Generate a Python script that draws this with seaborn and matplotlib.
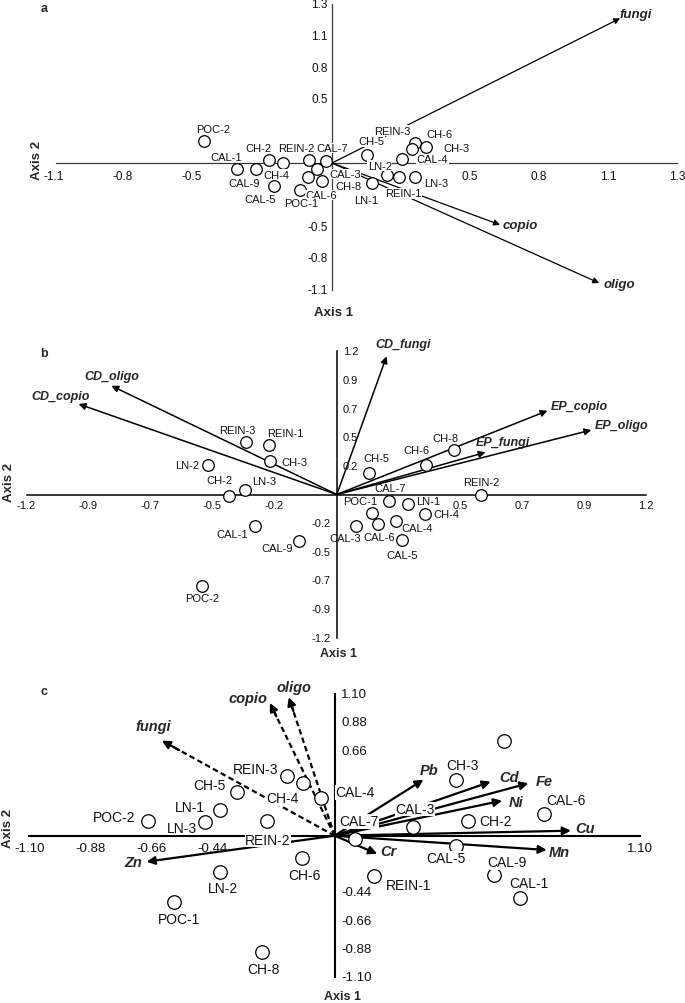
import numpy as np
import matplotlib
matplotlib.use("Agg")
import matplotlib.pyplot as plt
import seaborn as sns
import pandas as pd

# ---------------- data ----------------
# Panel a
A_SAMPLES = ['POC-2', 'CAL-1', 'CAL-9', 'CH-2', 'CH-4', 'CAL-5', 'REIN-2', 'CAL-7', 'CAL-3', 'CH-8', 'CAL-6',
             'POC-1', 'CH-5', 'LN-1', 'LN-2', 'REIN-1', 'LN-3', 'CAL-4', 'REIN-3', 'CH-3', 'CH-6']
A_AXIS1 = [-0.493, -0.368, -0.293, -0.244, -0.188, -0.223, -0.090, -0.023, -0.057, -0.094, -0.039,
           -0.125, 0.136, 0.156, 0.212, 0.260, 0.320, 0.270, 0.322, 0.309, 0.363]
A_AXIS2 = [0.187, -0.053, -0.050, 0.028, 0.000, -0.190, 0.023, 0.017, -0.050, -0.117, -0.151,
           -0.224, 0.067, -0.170, -0.101, -0.117, -0.117, 0.034, 0.168, 0.120, 0.137]
A_VARS = ['fungi', 'copio', 'oligo']
A_VEC1 = [1.113, 0.649, 1.032]
A_VEC2 = [1.214, -0.518, -1.007]
A_TICKLABELS = ['-1.1', '-0.8', '-0.5', '', '', '', '0.5', '0.8', '1.1', '1.3']

# Panel b
B_SAMPLES = ['REIN-3', 'REIN-1', 'CH-3', 'LN-2', 'CH-2', 'LN-3', 'CAL-1', 'CAL-9', 'POC-2', 'CH-5', 'CH-6',
             'CH-8', 'REIN-2', 'CAL-7', 'POC-1', 'LN-1', 'CH-4', 'CAL-4', 'CAL-6', 'CAL-3', 'CAL-5']
B_AXIS1 = [-0.353, -0.262, -0.258, -0.501, -0.419, -0.356, -0.316, -0.145, -0.523, 0.125, 0.346,
           0.455, 0.559, 0.202, 0.138, 0.277, 0.342, 0.228, 0.161, 0.073, 0.254]
B_AXIS2 = [0.443, 0.415, 0.279, 0.250, -0.010, 0.038, -0.262, -0.390, -0.765, 0.183, 0.250,
           0.373, -0.004, -0.057, -0.155, -0.082, -0.161, -0.225, -0.247, -0.262, -0.382]
B_VARS = ['CD_fungi', 'CD_oligo', 'CD_copio', 'EP_copio', 'EP_oligo', 'EP_fungi']
B_VEC1 = [0.193, -0.874, -1.001, 0.817, 0.987, 0.577]
B_VEC2 = [1.159, 0.912, 0.759, 0.703, 0.541, 0.354]
B_XTICKLABELS = ['-1.2', '-0.9', '-0.7', '-0.5', '-0.2', '', '', '0.5', '0.7', '0.9', '1.2']
B_YTICKLABELS = ['-1.2', '-0.9', '-0.7', '-0.5', '-0.2', '', '0.2', '0.5', '0.7', '0.9', '1.2']

# Panel c
C_SAMPLES = ['POC-2', 'LN-1', 'LN-3', 'CH-5', 'REIN-3', 'CH-4', 'CAL-4', 'REIN-2', 'CH-6', 'LN-2', 'POC-1',
             'CH-8', 'REIN-1', 'CAL-7', 'CAL-3', 'CH-3', '', 'CH-2', 'CAL-6', 'CAL-5', 'CAL-9', 'CAL-1']
C_AXIS1 = [-0.673, -0.414, -0.465, -0.350, -0.170, -0.112, -0.050, -0.242, -0.118, -0.413, -0.580,
           -0.263, 0.142, 0.074, 0.281, 0.438, 0.611, 0.480, 0.753, 0.436, 0.575, 0.666]
C_AXIS2 = [0.112, 0.200, 0.109, 0.337, 0.466, 0.409, 0.290, 0.112, -0.171, -0.280, -0.517,
           -0.901, -0.315, -0.026, 0.070, 0.432, 0.733, 0.116, 0.168, -0.078, -0.305, -0.481]
C_VARS = ['fungi', 'copio', 'oligo', 'Pb', 'Cd', 'Fe', 'Ni', 'Cu', 'Mn', 'Cr', 'Zn']
C_VEC1 = [-0.622, -0.233, -0.165, 0.320, 0.562, 0.698, 0.603, 0.851, 0.764, 0.153, -0.677]
C_VEC2 = [0.738, 1.030, 1.075, 0.435, 0.419, 0.407, 0.272, 0.039, -0.111, -0.140, -0.202]
C_DASHED = ['fungi', 'copio', 'oligo']
C_XTICKLABELS = ['-1.10', '-0.88', '-0.66', '-0.44', '', '', '', '', '', '', '1.10']
C_YTICKLABELS = ['-1.10', '-0.88', '-0.66', '-0.44', '', '', '', '', '0.66', '0.88', '1.10']

# ---------------- layout (pixel offsets for labels) ----------------
A_LAB_OFF = [(8.4, -11.7), (-10.7, -12.6), (-11.7, 14.3), (-10, -12), (-6.6, 11.7), (-14.6, 13.3), (-12, -12.3),
             (6.3, -13), (27.7, 5), (41, 9.3), (-1, 14), (2, 13.3), (4, -13.7), (-6.3, 16.4), (-7, -9.5),
             (4, 16.3), (21, 6.3), (30.7, 0), (-22.6, -12.3), (44.7, -1), (13.3, -12.7)]
A_VEC_OFF = [(16, -4), (20.5, 0), (20, 1)]
B_LAB_OFF = [(-8, -12), (16.4, -12), (23.7, 0.7), (-20, 0), (-9.4, -15.4), (19.3, -8.7), (-23, 8.6),
             (-22.6, 6.7), (0, 12), (7.7, -14.4), (-9.3, -14.7), (-8.7, -12.3), (0, -12.5), (1, -13),
             (-12.3, -12), (20, -3.3), (21, 0.6), (22, 6.4), (0.4, 12.7), (-10.7, 12.6), (-0.6, 14.7)]
B_VEC_OFF = [(16.6, -12.3), (0, -10), (-18, -8.3), (32, -4.4), (30.6, -5), (17.5, -10)]
C_LAB_OFF = [(-34, -4), (-29.3, -2.7), (-24, 6.3), (-27.5, -7.3), (-31.5, -6.7), (-21.5, 15.3), (34.6, -6),
             (0.4, 18.4), (3, 17.3), (3, 16.6), (5.7, 16.7), (2.2, 17.3), (35, 8.7), (3.5, -17.7),
             (2.2, -17.7), (6, -15), (0, 0), (27.6, 0), (22.7, -14.3), (-9.6, 12.6), (13, -12.7), (9.7, -14.7)]
C_VEC_OFF = [(-8.7, -15), (-22, -4.7), (5.2, -10), (5.3, -10), (18.8, -5), (15.3, -2), (14, 1),
             (14.5, -2.7), (12.2, 2.3), (11.4, -3), (-13, 0.6)]

W, H = 685, 1004
PT = 0.72  # points per pixel at 100 dpi

sns.set_style("white")
plt.rcParams['font.family'] = ['Liberation Sans', 'DejaVu Sans']

fig = plt.figure(figsize=(W / 100, H / 100), dpi=100)


def make_panel(top, bottom, ox, oy, sx, sy):
    ax = fig.add_axes([0, 1 - bottom / H, 1, (bottom - top) / H])
    ax.set_xlim((0 - ox) / sx, (W - ox) / sx)
    ax.set_ylim((oy - bottom) / sy, (oy - top) / sy)
    ax.patch.set_alpha(0)
    for s in ['top', 'right']:
        ax.spines[s].set_visible(False)
    ax.spines['left'].set_position(('data', 0))
    ax.spines['bottom'].set_position(('data', 0))
    return ax


def setup_axes(ax, ticks, color, lw, ticklen):
    ax.set_xticks(ticks)
    ax.set_yticks(ticks)
    ax.set_xticklabels([])
    ax.set_yticklabels([])
    ax.spines['left'].set_bounds(ticks[0], ticks[-1])
    ax.spines['bottom'].set_bounds(ticks[0], ticks[-1])
    for s in ['left', 'bottom']:
        ax.spines[s].set_color(color)
        ax.spines[s].set_linewidth(lw)
        ax.spines[s].set_zorder(1)
    ax.tick_params(direction='inout', length=ticklen, width=lw, color=color)


def draw_points(ax, names, x, y, offs, fs, size, bbox):
    df = pd.DataFrame({'Axis 1': x, 'Axis 2': y, 'name': names})
    sns.scatterplot(data=df, x='Axis 1', y='Axis 2', ax=ax, s=size, color='white',
                    edgecolor='black', linewidth=0.9, zorder=4, legend=False)
    for n, xi, yi, (dx, dy) in zip(names, x, y, offs):
        if not n:
            continue
        kw = {}
        if bbox:
            kw['bbox'] = dict(facecolor='white', edgecolor='none', pad=0.3)
        ax.annotate(n, (xi, yi), xytext=(dx * PT, -dy * PT), textcoords='offset points',
                    ha='center', va='center', fontsize=fs, color='#111111', zorder=5, **kw)
    ax.set_xlabel('')
    ax.set_ylabel('')


def draw_vectors(ax, names, vx, vy, offs, fs, lw, head, dashed=()):
    for n, x, y, (dx, dy) in zip(names, vx, vy, offs):
        if n in dashed:
            ax.plot([0, x * 0.93], [0, y * 0.93], color='black', lw=lw, ls=(0, (2.5, 1.5)), zorder=2)
            ax.annotate('', xy=(x, y), xytext=(x * 0.9, y * 0.9),
                        arrowprops=dict(arrowstyle='-|>', color='black', lw=lw,
                                        mutation_scale=head, shrinkA=0, shrinkB=0), zorder=2)
        else:
            ax.annotate('', xy=(x, y), xytext=(0, 0),
                        arrowprops=dict(arrowstyle='-|>', color='black', lw=lw,
                                        mutation_scale=head, shrinkA=0, shrinkB=0), zorder=2)
        ax.annotate(n, (x, y), xytext=(dx * PT, -dy * PT), textcoords='offset points',
                    ha='center', va='center', fontsize=fs, fontweight='bold', fontstyle='italic', zorder=5)


def tick_text(ax, ticks, xlabels, ylabels, fs, xdown, yside, ygap, xneg_shift=0):
    for t, lab in zip(ticks, xlabels):
        if lab:
            sh = xneg_shift if lab.startswith('-') else 0
            ax.annotate(lab, (t, 0), xytext=(sh * PT, -xdown * PT), textcoords='offset points',
                        ha='center', va='center', fontsize=fs, color='#111111')
    for t, lab in zip(ticks, ylabels):
        if lab:
            side = yside if yside != 'split' else ('left' if lab.startswith('-') else 'right')
            if side == 'left':
                ax.annotate(lab, (0, t), xytext=(-ygap * PT, 0), textcoords='offset points',
                            ha='right', va='center', fontsize=fs, color='#111111')
            else:
                ax.annotate(lab, (0, t), xytext=(ygap * PT, 0), textcoords='offset points',
                            ha='left', va='center', fontsize=fs, color='#111111')


def ftext(x, y, s, **kw):
    fig.text(x / W, 1 - y / H, s, ha='center', va='center', **kw)


# ---------------- panel a ----------------
axa = make_panel(0, 325, 332, 164, 258.9, 119.2)
ticks_a = np.arange(-4, 6) * 0.2667
setup_axes(axa, ticks_a, '#3a3a3a', 0.9, 7)
draw_vectors(axa, A_VARS, A_VEC1, A_VEC2, A_VEC_OFF, 9.5, 0.9, 9)
draw_points(axa, A_SAMPLES, A_AXIS1, A_AXIS2, A_LAB_OFF, 8, 70, True)
tick_text(axa, ticks_a, A_TICKLABELS, A_TICKLABELS, 8.5, 12.5, 'left', 4.5, xneg_shift=-2)
ftext(333, 313, 'Axis 1', fontsize=9.5, fontweight='bold')
ftext(37, 160, 'Axis 2', fontsize=9.5, fontweight='bold', rotation=90)
ftext(44, 9, 'a', fontsize=9, fontweight='bold')

# ---------------- panel b ----------------
axb = make_panel(325, 660, 336.8, 495.5, 257.9, 119.2)
ticks_b = np.arange(-5, 6) * 0.24
setup_axes(axb, ticks_b, 'black', 1.1, 7)
draw_vectors(axb, B_VARS, B_VEC1, B_VEC2, B_VEC_OFF, 9, 1.1, 10)
draw_points(axb, B_SAMPLES, B_AXIS1, B_AXIS2, B_LAB_OFF, 8, 70, False)
tick_text(axb, ticks_b, B_XTICKLABELS, B_YTICKLABELS, 8, 10.5, 'split', 6, xneg_shift=-1)
ftext(339, 654, 'Axis 1', fontsize=9, fontweight='bold')
ftext(9, 482, 'Axis 2', fontsize=9.5, fontweight='bold', rotation=90)
ftext(44, 354, 'b', fontsize=9, fontweight='bold')

# ---------------- panel c ----------------
axc = make_panel(660, 1004, 334.6, 836.7, 277.7, 128.8)
ticks_c = np.arange(-5, 6) * 0.22
setup_axes(axc, ticks_c, 'black', 1.5, 9)
draw_vectors(axc, C_VARS, C_VEC1, C_VEC2, C_VEC_OFF, 10.5, 1.6, 12, dashed=C_DASHED)
draw_points(axc, C_SAMPLES, C_AXIS1, C_AXIS2, C_LAB_OFF, 10, 95, True)
tick_text(axc, ticks_c, C_XTICKLABELS, C_YTICKLABELS, 9.5, 12.5, 'right', 6.5, xneg_shift=0)
ftext(343, 997, 'Axis 1', fontsize=9, fontweight='bold')
ftext(8, 828, 'Axis 2', fontsize=9.5, fontweight='bold', rotation=90)
ftext(44, 692, 'c', fontsize=9, fontweight='bold')

fig.savefig('out.png', dpi=100)
